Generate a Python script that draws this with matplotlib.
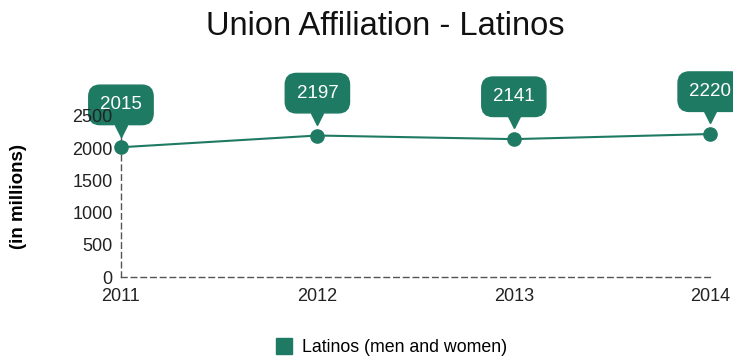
import matplotlib.pyplot as plt
import matplotlib.transforms as mtransforms

plt.rcParams['font.family'] = ['Liberation Sans', 'DejaVu Sans']

years = [2011, 2012, 2013, 2014]
latinos = [2015, 2197, 2141, 2220]
yticks = [0, 500, 1000, 1500, 2000, 2500]

green = '#1f7a64'

fig = plt.figure(figsize=(7.33, 3.58), dpi=100)
ax = fig.add_axes([0.165, 0.226, 0.804, 0.45])

ax.plot(years, latinos, color=green, lw=1.5, marker='o', ms=9.5,
        clip_on=False, zorder=3)

# value callouts: rounded box with a small pointer under it
for x, y in zip(years, latinos):
    ax.annotate(str(y), (x, y), xytext=(0, 30.5), textcoords='offset points',
                ha='center', va='center', color='white', fontsize=13.5,
                bbox=dict(boxstyle='round,pad=0.6', fc=green, ec=green),
                zorder=5, annotation_clip=False)
    tri = mtransforms.offset_copy(ax.transData, fig=fig, x=0, y=12, units='points')
    ax.plot(x, y, marker='v', ms=8.5, color=green, transform=tri,
            clip_on=False, zorder=4)

ax.set_xlim(2011, 2014)
ax.set_ylim(0, 2500)
ax.set_xticks(years)
ax.set_yticks(yticks)
ax.tick_params(axis='both', length=0, labelsize=13, colors='#222222')
ax.tick_params(axis='x', pad=7.5)
ax.tick_params(axis='y', pad=6)
ax.yaxis.set_zorder(6)

for side in ['top', 'right']:
    ax.spines[side].set_visible(False)
for side in ['left', 'bottom']:
    ax.spines[side].set_linestyle((0, (4, 3)))
    ax.spines[side].set_color('#555555')
    ax.spines[side].set_linewidth(1)

ax.set_ylabel('(in millions)', fontsize=13.5, fontweight='bold')
ax.yaxis.set_label_coords(-0.16, 0.5)

fig.text(0.525, 0.927, 'Union Affiliation - Latinos', ha='center', va='center',
         fontsize=23.5, color='#111111')

leg = ax.legend(handles=[plt.Line2D([], [], ls='', marker='s', ms=11, color=green)],
                labels=['Latinos (men and women)'], loc='center',
                frameon=False, fontsize=12.8, handletextpad=0.0)
leg.set_bbox_to_anchor((0.527, 0.03), transform=fig.transFigure)

fig.savefig('out.png', dpi=100)
